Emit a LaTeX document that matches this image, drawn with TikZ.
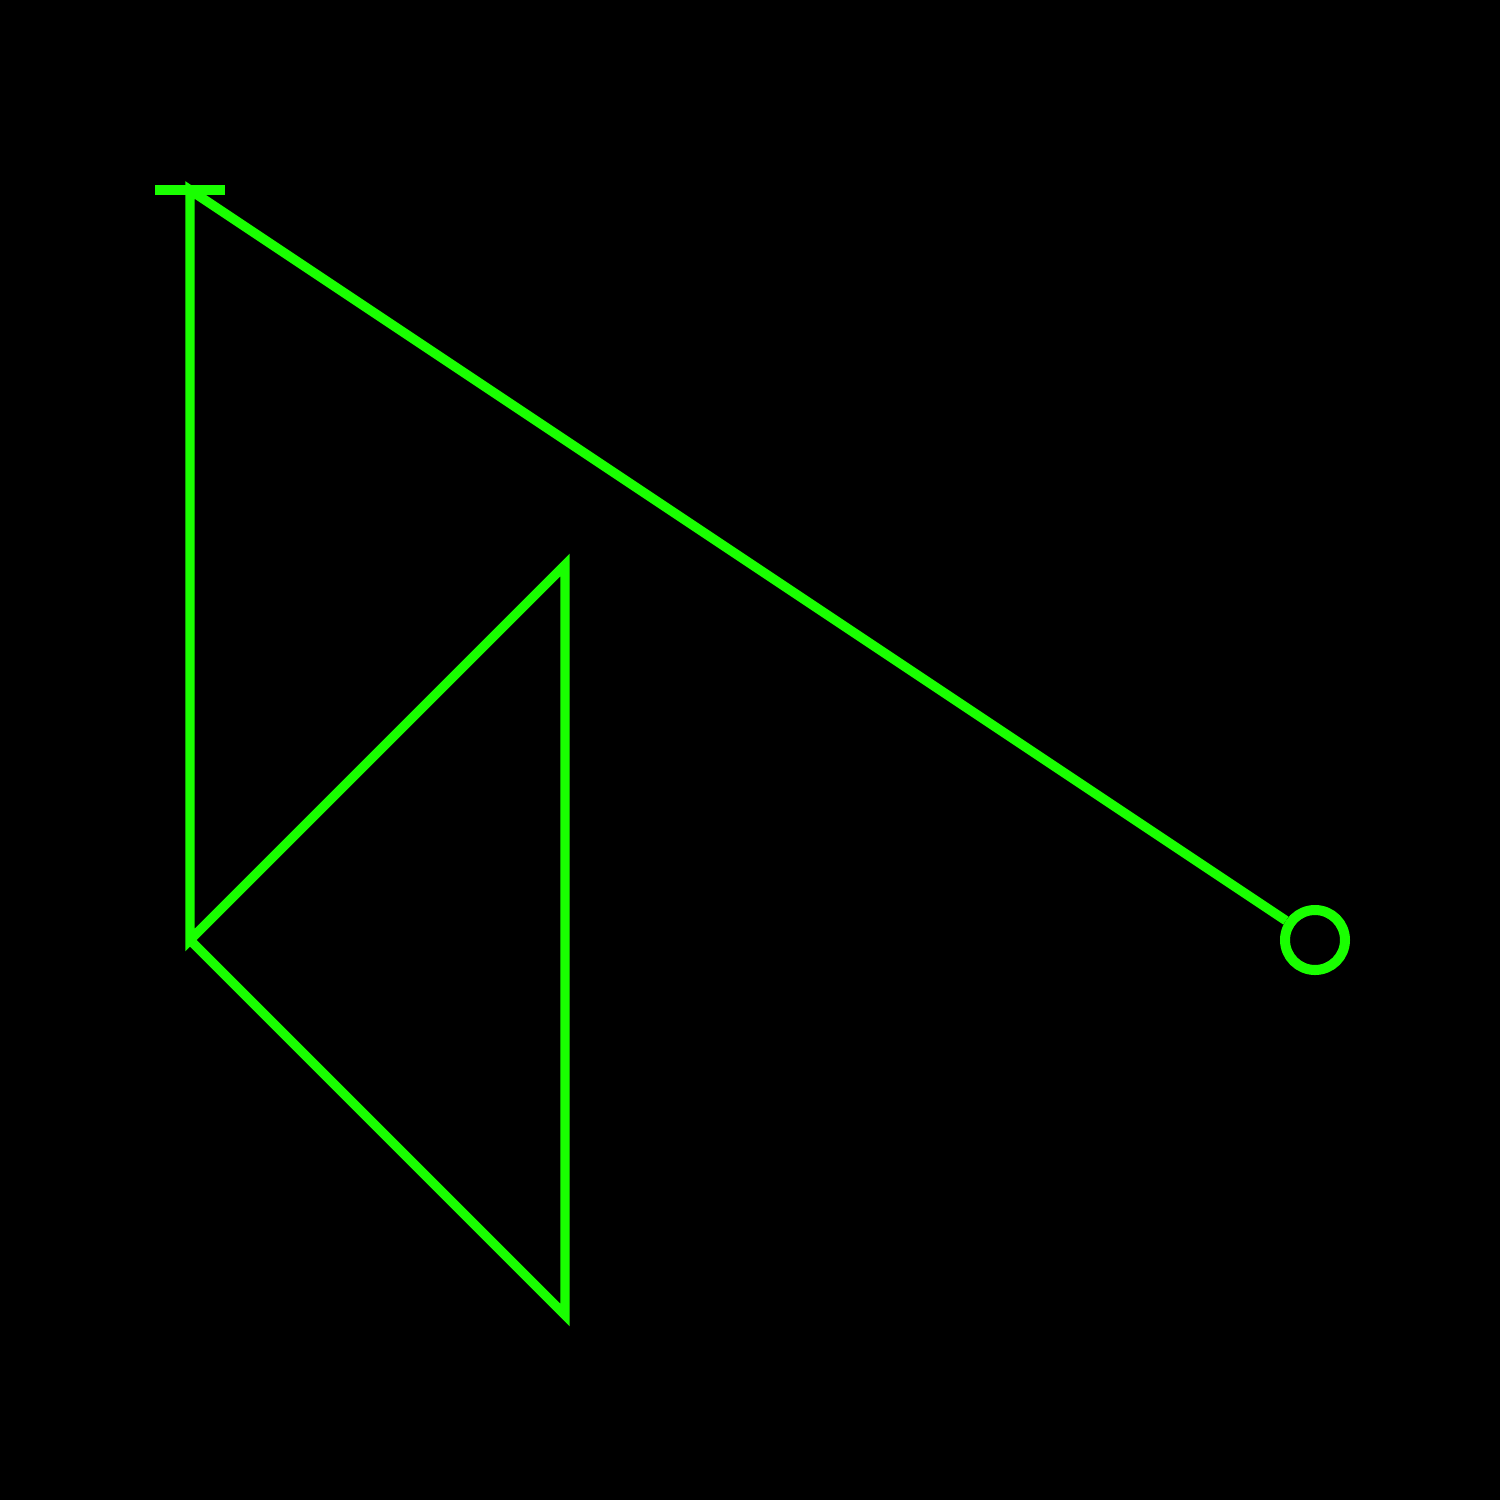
\documentclass[tikz,border=0pt]{standalone}
\usetikzlibrary{arrows.meta}
\definecolor{neon}{RGB}{25,255,0}
\begin{document}
\begin{tikzpicture}
    \fill[black] (0, 0) rectangle (15, -15);
    \useasboundingbox (0, 0) rectangle (15, -15);

    \coordinate (top) at (1.9, -1.9);
    \coordinate (left) at (1.9, -9.4);
    \coordinate (upper) at (5.65, -5.65);
    \coordinate (lower) at (5.65, -13.15);
    \node[circle, draw=neon, line width=2.85pt, minimum size=6mm, inner sep=0pt] (ring) at (13.15, -9.4) {};

    \draw[neon, line width=2.7pt, shorten <=-1.35pt, {Bar[width=7mm]}-] (top) -- (left) -- (upper) -- (lower) -- (left) -- (top) -- (ring);
\end{tikzpicture}
\end{document}
